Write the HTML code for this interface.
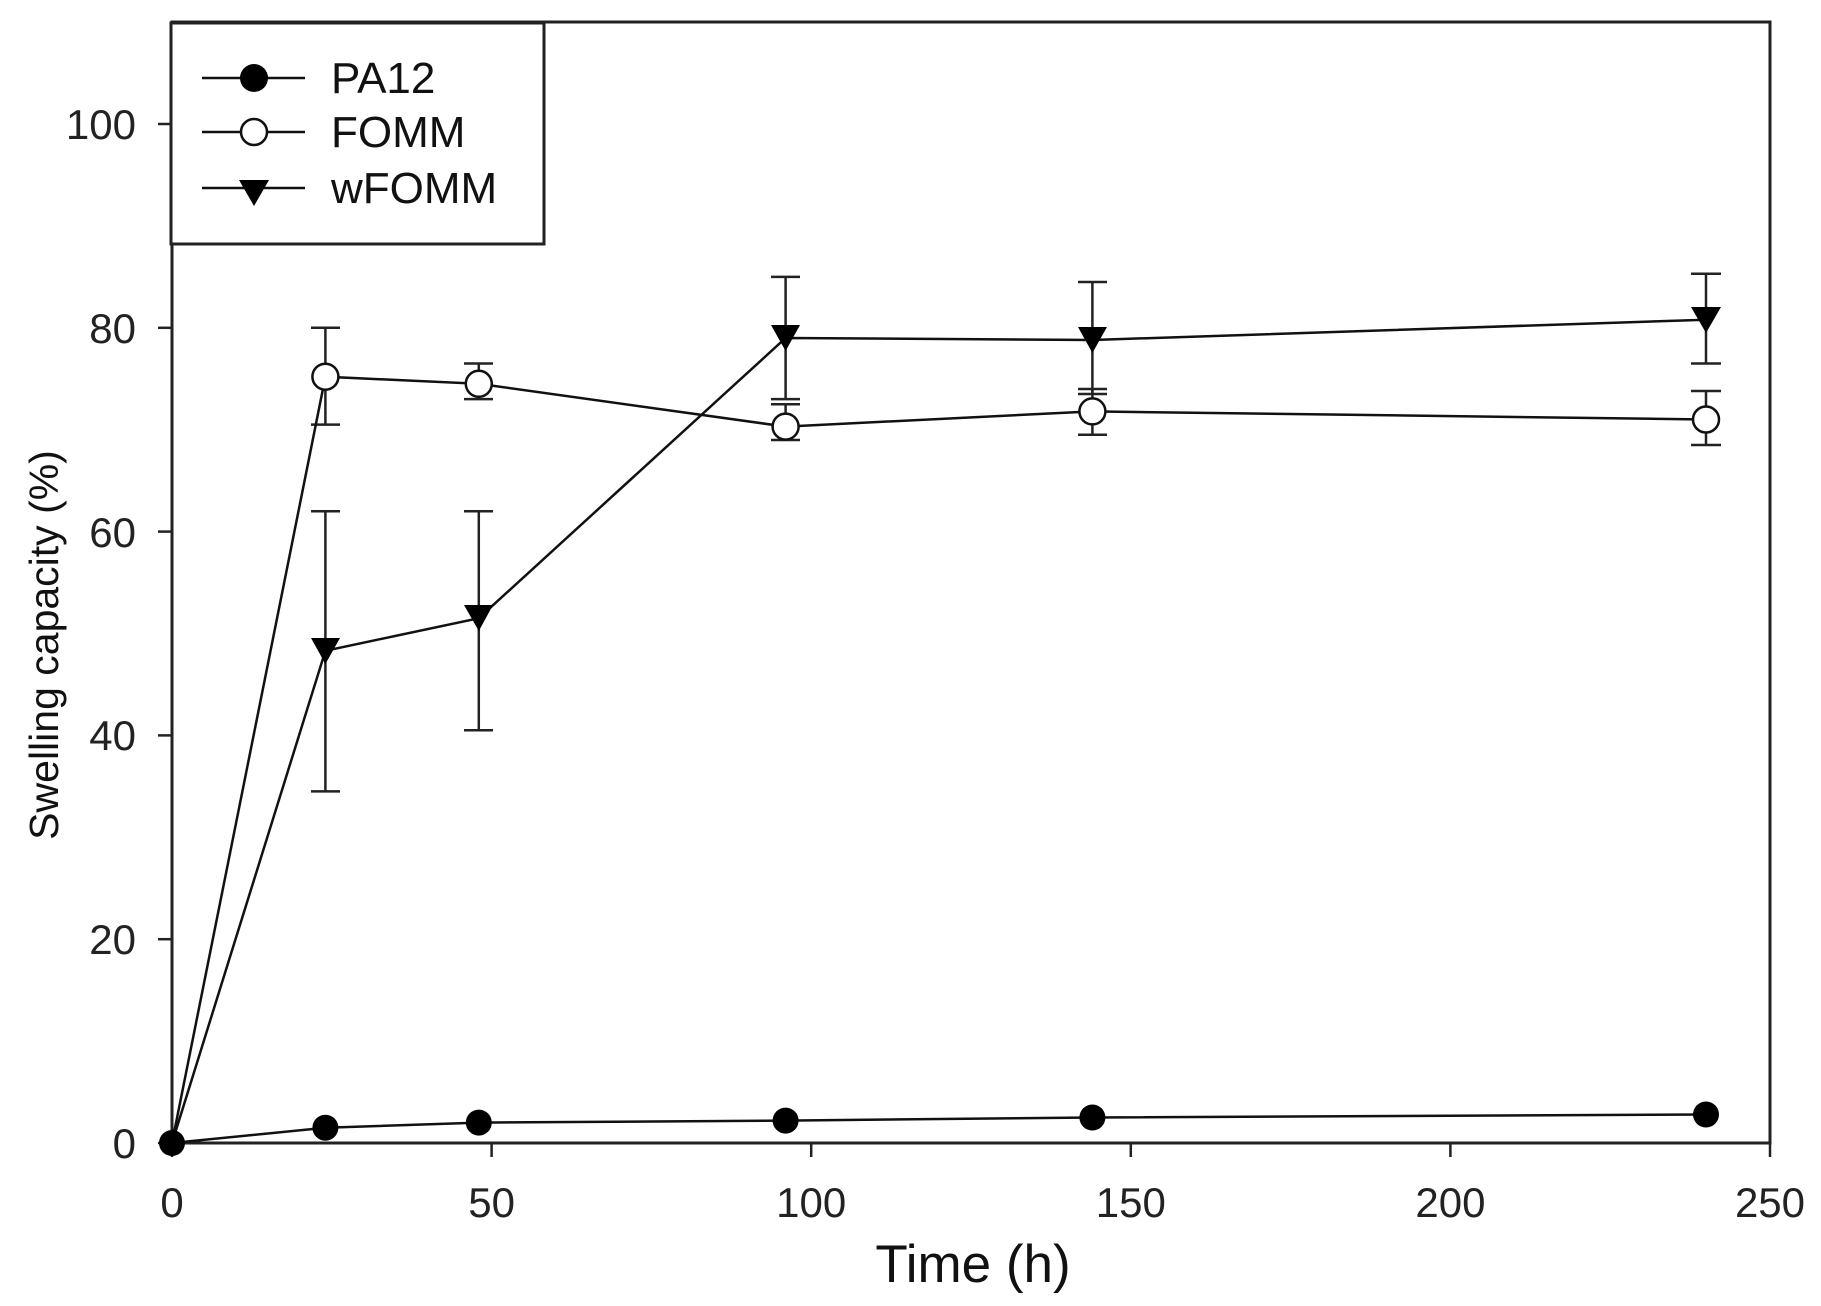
<!DOCTYPE html>
<html><head><meta charset="utf-8"><style>body{margin:0;background:#fff}svg{display:block}</style></head>
<body>
<svg width="1821" height="1306" viewBox="0 0 1821 1306" xmlns="http://www.w3.org/2000/svg" font-family="Liberation Sans, Arial, sans-serif">
<rect width="1821" height="1306" fill="#fff"/>
<rect x="172" y="22" width="1598" height="1121" fill="none" stroke="#222" stroke-width="3"/>
<g stroke="#222" stroke-width="2.5">
<line x1="158" y1="1143" x2="172" y2="1143"/><line x1="158" y1="939.2" x2="172" y2="939.2"/><line x1="158" y1="735.4" x2="172" y2="735.4"/><line x1="158" y1="531.6" x2="172" y2="531.6"/><line x1="158" y1="327.8" x2="172" y2="327.8"/><line x1="158" y1="124" x2="172" y2="124"/>
<line x1="172" y1="1143" x2="172" y2="1157"/><line x1="491.6" y1="1143" x2="491.6" y2="1157"/><line x1="811.2" y1="1143" x2="811.2" y2="1157"/><line x1="1130.8" y1="1143" x2="1130.8" y2="1157"/><line x1="1450.4" y1="1143" x2="1450.4" y2="1157"/><line x1="1770" y1="1143" x2="1770" y2="1157"/>
</g>
<g font-size="42" fill="#222" text-anchor="end">
<text x="136" y="1158">0</text><text x="136" y="954">20</text><text x="136" y="750">40</text><text x="136" y="547">60</text><text x="136" y="343">80</text><text x="136" y="139">100</text>
</g>
<g font-size="42" fill="#222" text-anchor="middle">
<text x="172" y="1217">0</text><text x="491.6" y="1217">50</text><text x="811.2" y="1217">100</text><text x="1130.8" y="1217">150</text><text x="1450.4" y="1217">200</text><text x="1770" y="1217">250</text>
</g>
<text x="973" y="1282" font-size="53" text-anchor="middle" fill="#111">Time (h)</text>
<text transform="translate(58,645) rotate(-90)" font-size="41" text-anchor="middle" fill="#111">Swelling capacity (%)</text>

<g stroke="#222" stroke-width="2.5" fill="none">
<path d="M325.4 327.8V424.6M311 327.8H340M311 424.6H340"/>
<path d="M478.8 363.5V399.1M464 363.5H493M464 399.1H493"/>
<path d="M785.6 404.2V440M771 404.2H800M771 440H800"/>
<path d="M1092.4 389V434.8M1078 389H1107M1078 434.8H1107"/>
<path d="M1706 391V445M1691 391H1721M1691 445H1721"/>
<path d="M325.4 511.2V791.4M311 511.2H340M311 791.4H340"/>
<path d="M478.8 511.2V730.3M464 511.2H493M464 730.3H493"/>
<path d="M785.6 276.9V399.1M771 276.9H800M771 399.1H800"/>
<path d="M1092.4 282V394M1078 282H1107M1078 394H1107"/>
<path d="M1706 273.8V363.5M1691 273.8H1721M1691 363.5H1721"/>
</g>
<g stroke="#111" stroke-width="2.5" fill="none">
<polyline points="172,1143 325.4,1127.7 478.8,1122.6 785.6,1120.6 1092.4,1117.5 1706,1114.5"/>
<polyline points="172,1143 325.4,376.7 478.8,383.8 785.6,426.6 1092.4,411.4 1706,419.5"/>
<polyline points="172,1143 325.4,650.8 478.8,618.2 785.6,338 1092.4,340 1706,319.7"/>
</g>
<g fill="#000">
<circle cx="172" cy="1143" r="13"/><circle cx="325.4" cy="1127.7" r="13"/><circle cx="478.8" cy="1122.6" r="13"/><circle cx="785.6" cy="1120.6" r="13"/><circle cx="1092.4" cy="1117.5" r="13"/><circle cx="1706" cy="1114.5" r="13"/>
</g>
<g fill="#fff" stroke="#111" stroke-width="2.5">
<circle cx="325.4" cy="376.7" r="13"/><circle cx="478.8" cy="383.8" r="13"/><circle cx="785.6" cy="426.6" r="13"/><circle cx="1092.4" cy="411.4" r="13"/><circle cx="1706" cy="419.5" r="13"/>
</g>
<g fill="#000">
<path d="M311,638 H340 L325.4,664 Z"/><path d="M464,605 H493 L478.8,631 Z"/><path d="M771,325 H800 L785.6,351 Z"/><path d="M1078,327 H1107 L1092.4,353 Z"/><path d="M1691,307 H1721 L1706,333 Z"/>
</g>

<rect x="171" y="23" width="373" height="221" fill="#fff" stroke="#222" stroke-width="3"/>
<g stroke="#111" stroke-width="2.5">
<line x1="202" y1="78" x2="305" y2="78"/><line x1="202" y1="132" x2="305" y2="132"/><line x1="202" y1="188" x2="305" y2="188"/>
</g>
<circle cx="254" cy="78" r="14" fill="#000"/>
<circle cx="254" cy="132" r="13" fill="#fff" stroke="#111" stroke-width="2.5"/>
<path d="M239,180 H269 L254,206 Z" fill="#000"/>
<g font-size="44" fill="#111">
<text x="331" y="93">PA12</text><text x="331" y="147">FOMM</text><text x="331" y="203">wFOMM</text>
</g>
</svg>
</body></html>
